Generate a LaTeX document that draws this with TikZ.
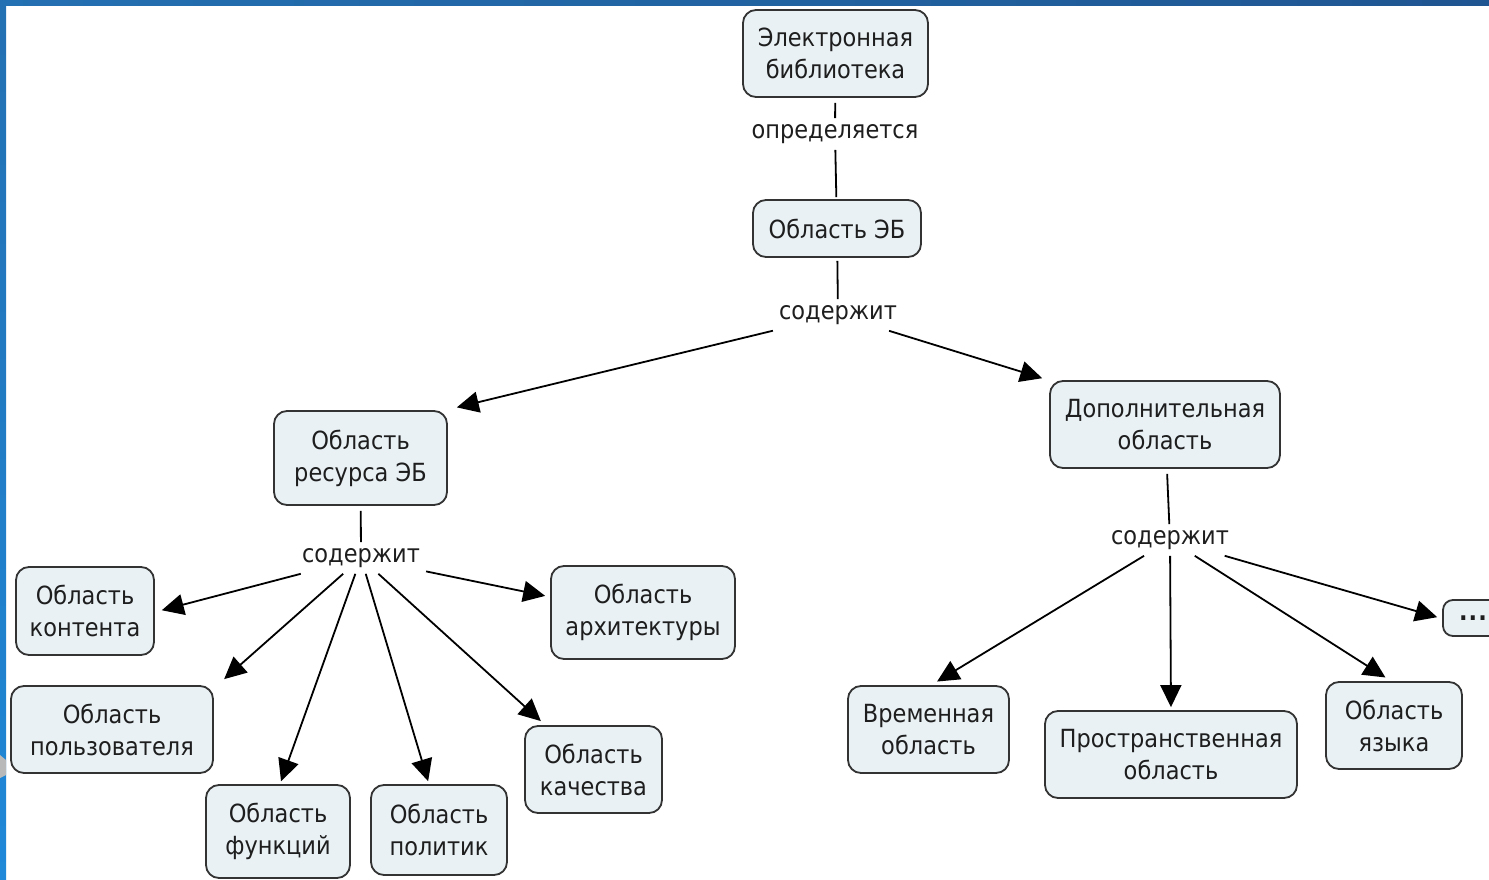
\documentclass[tikz,border=0pt]{standalone}
\usepackage{fontspec}
\setmainfont{DejaVu Sans}[FakeStretch=0.9]
\usetikzlibrary{arrows.meta}
\definecolor{boxfill}{HTML}{E9F1F5}
\definecolor{boxdraw}{HTML}{333333}
\definecolor{txt}{HTML}{1E1E1E}
\definecolor{barA}{HTML}{2370B2}
\definecolor{barB}{HTML}{1F5591}
\definecolor{barC}{HTML}{1F88D8}
\tikzset{
  concept/.style={draw=boxdraw, line width=1.8pt, fill=boxfill, rounded corners=13pt,
    align=center, text=txt, font=\fontsize{25}{32}\selectfont, inner sep=2pt},
  linkword/.style={text=txt, font=\fontsize{25}{30}\selectfont, inner sep=6pt},
  conn/.style={line width=1.8pt, draw=black},
  arr/.style={conn, -{Triangle[length=22pt,width=21pt]}, shorten >=3pt}
}
\begin{document}
\begin{tikzpicture}[x=1pt,y=-1pt]
\useasboundingbox (0,0) rectangle (1489,880);
\clip (0,0) rectangle (1489,880);
\fill[white] (0,0) rectangle (1489,880);
% frame bars
\shade[left color=barA, right color=barB] (0,0) rectangle (1489,6);
\shade[top color=barA, bottom color=barC] (0,0) rectangle (6,880);
\fill[gray!55] (0,755) -- (6,760) -- (6,775) -- (0,778) -- cycle;

% concepts
\node[concept, minimum width=185pt, minimum height=87pt] (EL) at (835.5,53.5) {Электронная\\библиотека};
\node[concept, minimum width=168pt, minimum height=57pt] (OEB) at (837,228.5) {Область ЭБ};
\node[concept, minimum width=173pt, minimum height=94pt] (ORE) at (360.5,458) {Область\\ресурса ЭБ};
\node[concept, minimum width=230pt, minimum height=87pt] (DOP) at (1165,424.5) {Дополнительная\\область};
\node[concept, minimum width=138pt, minimum height=88pt] (OK) at (85,611) {Область\\контента};
\node[concept, minimum width=202pt, minimum height=87pt] (OP) at (112,729.5) {Область\\пользователя};
\node[concept, minimum width=144pt, minimum height=93pt] (OF) at (278,831.5) {Область\\функций};
\node[concept, minimum width=136pt, minimum height=90pt] (OPol) at (439,830) {Область\\политик};
\node[concept, minimum width=137pt, minimum height=87pt] (OQ) at (593.5,769.5) {Область\\качества};
\node[concept, minimum width=184pt, minimum height=93pt] (OA) at (643,612.5) {Область\\архитектуры};
\node[concept, minimum width=161pt, minimum height=87pt] (VR) at (928.5,729.5) {Временная\\область};
\node[concept, minimum width=252pt, minimum height=87pt] (PR) at (1171,754.5) {Пространственная\\область};
\node[concept, minimum width=136pt, minimum height=87pt] (YZ) at (1394,725.5) {Область\\языка};
\node[concept, minimum width=60pt, minimum height=36pt, rounded corners=10pt] (DOTS) at (1473,618) {\raisebox{-3pt}{\bfseries .\kern1pt.\kern1pt.}};

% linking words
\node[linkword] (L1) at (835,134) {определяется};
\node[linkword] (L2) at (838,315) {содержит};
\node[linkword] (L3) at (361,558) {содержит};
\node[linkword] (L4) at (1170,540) {содержит};

% connectors
\draw[conn, shorten <=5pt] (EL) -- (L1);
\draw[conn, shorten >=2pt] (L1) -- (OEB);
\draw[conn, shorten <=3pt] (OEB) -- (L2);
\draw[arr] (L2) -- ([xshift=6pt,yshift=2pt]ORE.north east);
\draw[arr] (L2) -- ([xshift=-4pt,yshift=1pt]DOP.north west);
\draw[conn, shorten <=5pt] (ORE) -- (L3);
\draw[conn, shorten <=5pt] (DOP) -- (L4);
\draw[arr] (L3) -- ([xshift=4pt]OK.east);
\draw[arr] (L3) -- ([xshift=8pt,yshift=4pt]OP.north east);
\draw[arr] (L3) -- ([xshift=2pt]OF.north);
\draw[arr] (L3) -- ([xshift=-10pt]OPol.north);
\draw[arr] (L3) -- ([xshift=19pt,yshift=2pt]OQ.north west);
\draw[arr] (L3) -- ([xshift=-2pt,yshift=16pt]OA.west);
\draw[arr] (L4) -- ([xshift=6pt,yshift=2pt]VR.north);
\draw[arr] (L4) -- (PR.north);
\draw[arr] (L4) -- ([xshift=-6pt,yshift=2pt]YZ.north);
\draw[arr] (L4) -- ([xshift=-2pt]DOTS.west);
\end{tikzpicture}
\end{document}
